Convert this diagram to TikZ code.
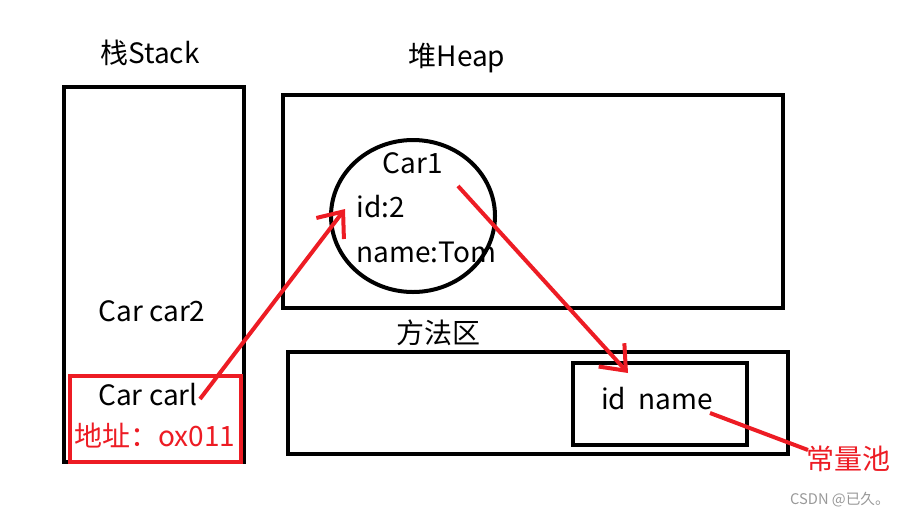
\documentclass[tikz,border=0pt]{standalone}
\usepackage{fontspec}
\setmainfont{Noto Sans CJK SC}
\usetikzlibrary{arrows.meta, positioning, shapes.geometric, fit}
\definecolor{pen}{HTML}{ED1C24}
\definecolor{mark}{HTML}{999999}

\begin{document}
\begin{tikzpicture}[
    x=0.75pt, y=-0.75pt,
    frame/.style={draw, line width=3pt, inner sep=0pt},
    redframe/.style={draw=pen, line width=3pt, inner sep=0pt},
    lbl/.style={font=\fontsize{21}{25}\selectfont, inner sep=1pt},
    redlbl/.style={font=\fontsize{21}{25}\selectfont, text=pen, inner sep=1pt},
    pointer/.style={-{Straight Barb[length=16pt, width=26pt, line width=3pt]}, line width=3pt, pen},
    link/.style={line width=3pt, pen},
]
\useasboundingbox (0,0) rectangle (920,519);

% Stack
\node[lbl] (stacktitle) at (150,53) {栈Stack};
\node[frame, fit={(64,87) (244,462)}] (stack) {};
\node[lbl] (car2) at (152,311) {Car car2};
\node[redframe, fit={(70,376) (241,462)}] (ref) {};
\node[lbl] (car1ref) at (148,395) {Car carl};
\node[redlbl] (addr) at (155,436) {地址：ox011};

% Heap
\node[lbl] (heaptitle) at (457,58) {堆Heap};
\node[frame, fit={(283,95) (783,308)}] (heap) {};
\node[draw, ellipse, line width=3pt, minimum width=123pt, minimum height=114pt] (obj) at (413,216) {};
\node[lbl] (objname) at (413,163) {Car1};
\node[lbl, anchor=west] (id) at (355,207) {id:2};
\node[lbl, anchor=west] (name) at (355,252) {name:Tom};

% Method area
\node[lbl] (methodtitle) at (438,333) {方法区};
\node[frame, fit={(288,352) (788,454)}] (method) {};
\node[frame, fit={(573,363) (747,445)}] (pool) {};
\node[lbl] (fields) at (657,399) {id\ \ name};
\node[redlbl] (pooltitle) at (848,459) {常量池};

% Pointers
\coordinate (refout) at (200,399);
\coordinate (objin) at (345,209);
\coordinate (objout) at (458,186);
\coordinate (poolin) at (628,373);
\coordinate (nameout) at (710,413);
\coordinate (poolend) at (808,450);
\draw[pointer] (refout) -- (objin);
\draw[pointer] (objout) -- (poolin);
\draw[link] (nameout) -- (poolend);

\node[font=\fontsize{11}{13}\selectfont, text=mark] (mark) at (840,500) {CSDN @已久。};
\end{tikzpicture}
\end{document}
